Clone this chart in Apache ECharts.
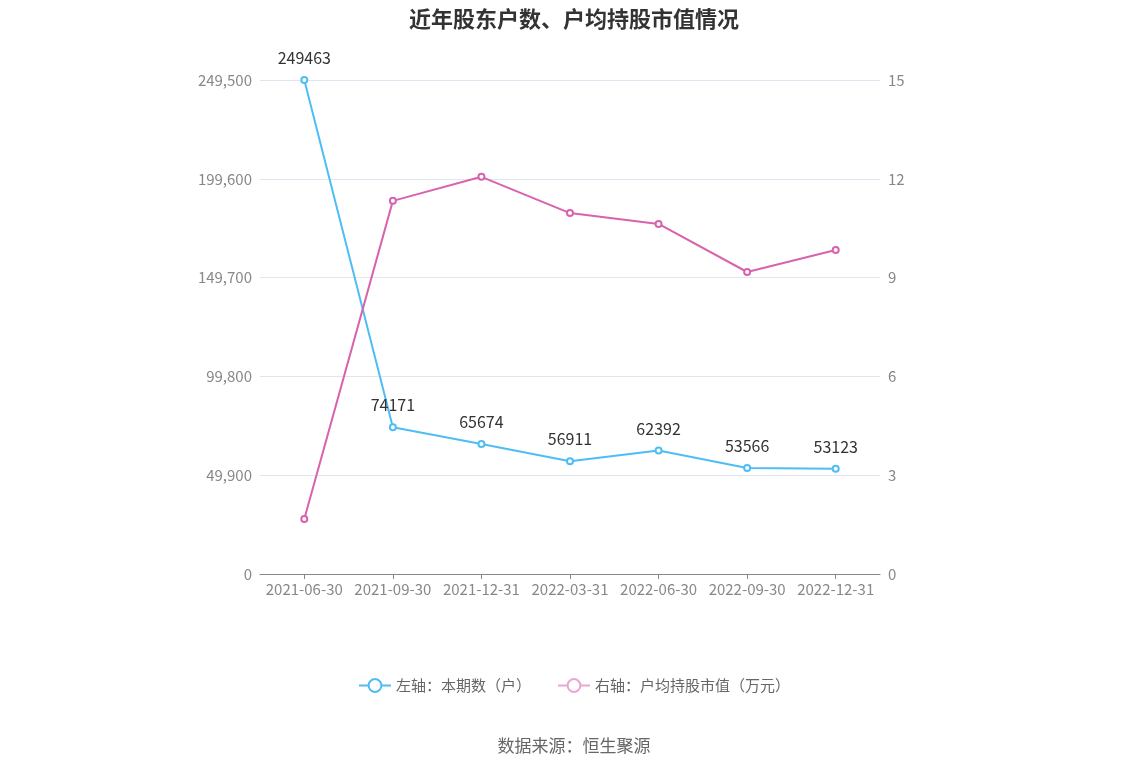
<!DOCTYPE html>
<html><head><meta charset="utf-8">
<script src="https://cdn.jsdelivr.net/npm/echarts@6/dist/echarts.min.js"></script>
<style>html,body{margin:0;padding:0;background:#fff}#c{width:1148px;height:776px}</style>
</head><body><div id="c"></div>
<script>
const categories = ['2021-06-30','2021-09-30','2021-12-31','2022-03-31','2022-06-30','2022-09-30','2022-12-31'];
const holders = [249463,74171,65674,56911,62392,53566,53123];
const avgValue = [1.67,11.33,12.06,10.96,10.63,9.17,9.84];
const leftTicks = [0,49900,99800,149700,199600,249500];
const chart = echarts.init(document.getElementById('c'));
const ff = '"Noto Sans CJK SC","Noto Sans",sans-serif';
chart.setOption({
  textStyle:{fontFamily:ff},
  title:{text:'近年股东户数、户均持股市值情况',left:'center',top:3,textStyle:{fontSize:22,fontWeight:'bold',color:'#333',fontFamily:ff}},
  grid:{left:260,right:268,top:80,bottom:202},
  legend:{bottom:78,left:'center',itemGap:26,itemWidth:32,itemHeight:16,textStyle:{color:'#666',fontSize:15},
    data:[{name:'左轴：本期数（户）'},{name:'右轴：户均持股市值（万元）',itemStyle:{borderColor:'#e9a6d0'},lineStyle:{color:'#e9a6d0'}}]},
  graphic:[{type:'text',left:'center',top:737,style:{text:'数据来源：恒生聚源',fill:'#666',font:'17px '+ff}}],
  xAxis:{type:'category',data:categories,boundaryGap:true,
    axisLine:{lineStyle:{color:'#888'}},axisTick:{show:true,alignWithLabel:true},
    axisLabel:{color:'#888',fontSize:15,interval:0}},
  yAxis:[
    {type:'value',min:0,max:249500,interval:49900,position:'left',
     axisLabel:{color:'#888',fontSize:15,formatter:v=>v.toLocaleString('en-US')},
     splitLine:{lineStyle:{color:'#e0e6f1'}},axisLine:{show:false},axisTick:{show:false}},
    {type:'value',min:0,max:15,interval:3,position:'right',
     axisLabel:{color:'#888',fontSize:15},splitLine:{show:false},axisLine:{show:false},axisTick:{show:false}}
  ],
  series:[
    {name:'左轴：本期数（户）',type:'line',yAxisIndex:0,data:holders,color:'#4fbdf5',
     symbol:'circle',symbolSize:6,itemStyle:{color:'#fff',borderColor:'#4fbdf5',borderWidth:2},
     lineStyle:{color:'#4fbdf5',width:2},
     label:{show:true,position:'top',distance:10,color:'#333',fontSize:16}},
    {name:'右轴：户均持股市值（万元）',type:'line',yAxisIndex:1,data:avgValue,color:'#d863ad',
     symbol:'circle',symbolSize:6,itemStyle:{color:'#fff',borderColor:'#d863ad',borderWidth:2},
     lineStyle:{color:'#d863ad',width:2}}
  ]
});
</script></body></html>
